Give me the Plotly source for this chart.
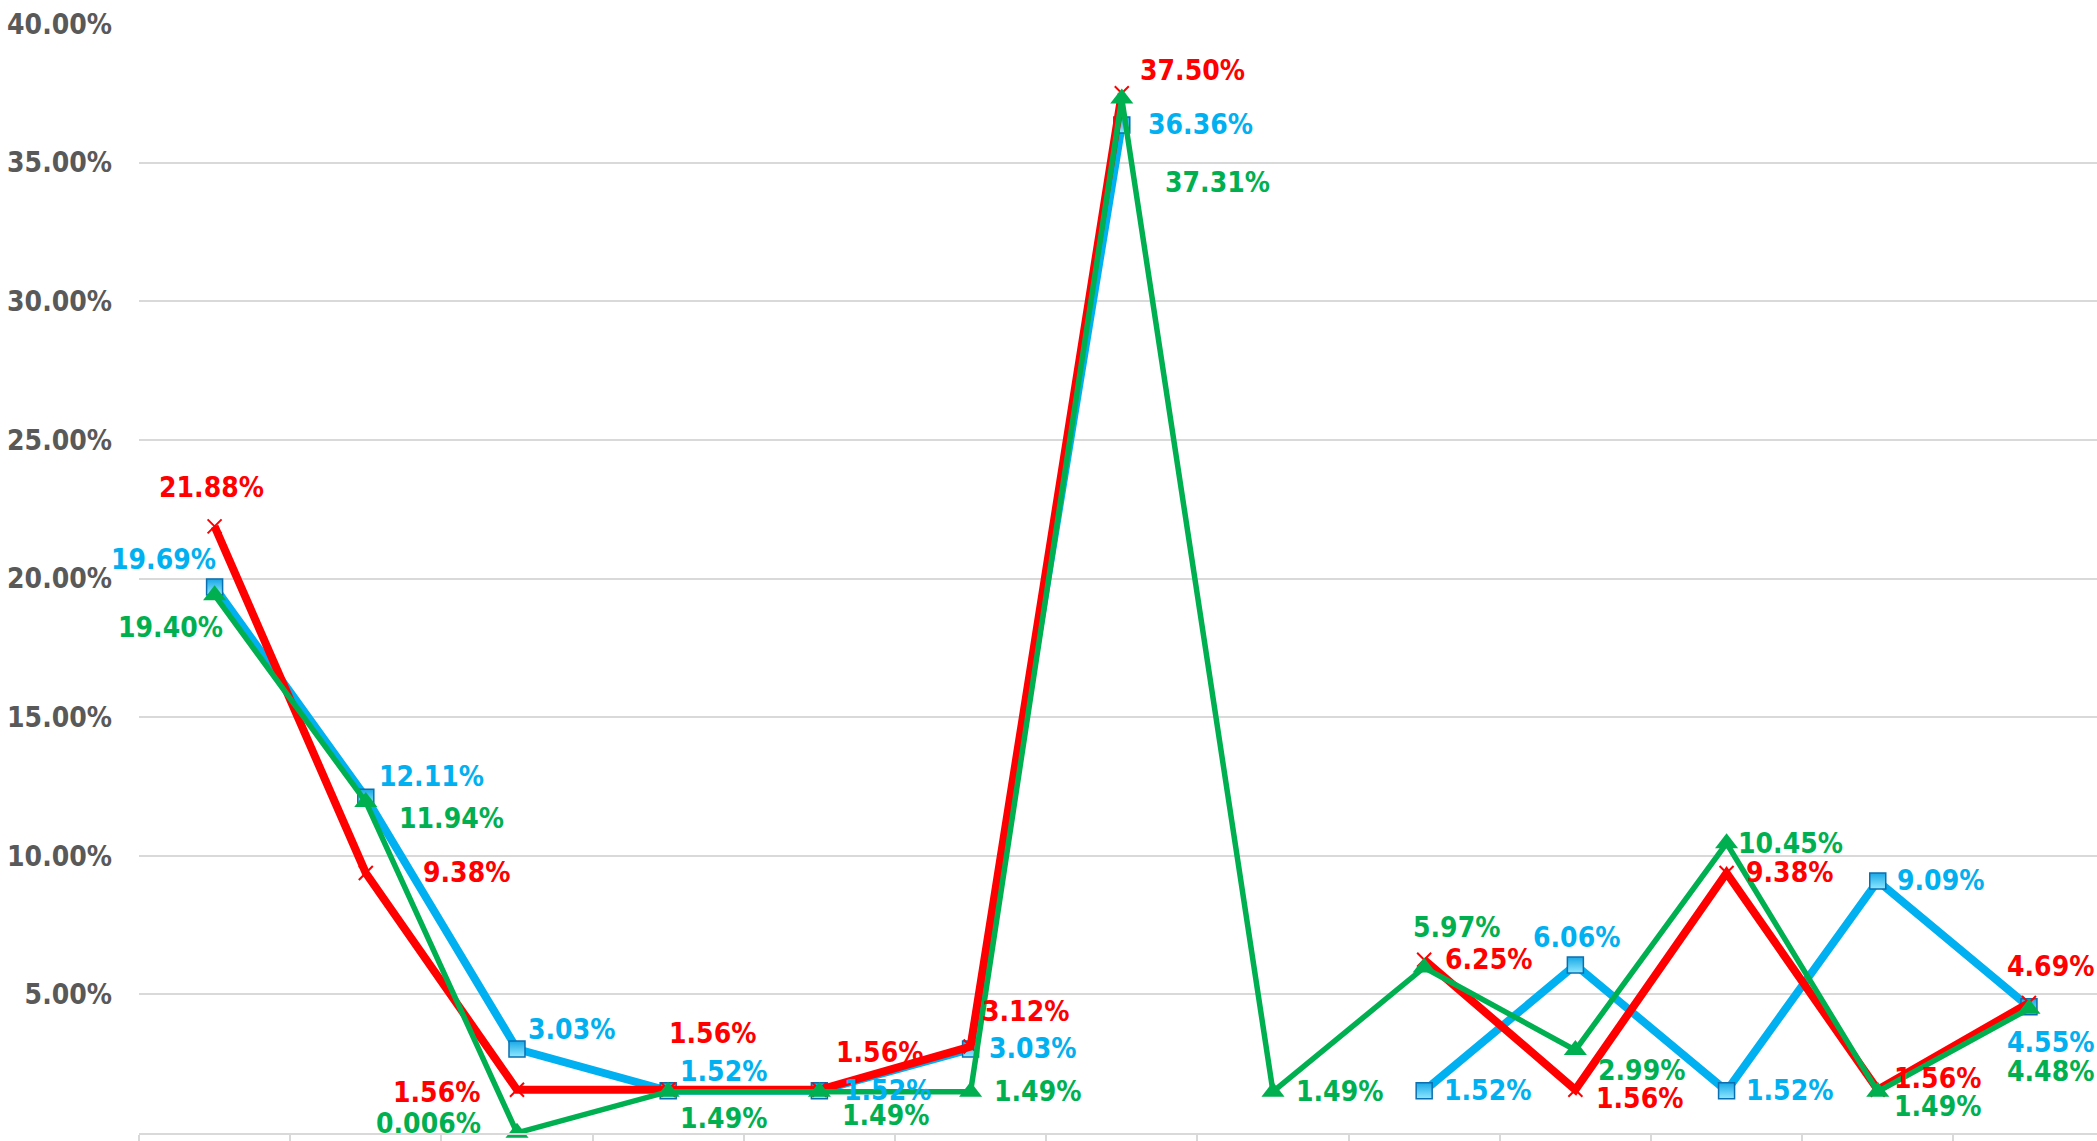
import plotly.graph_objects as go

# ---- data ----
categories = [f"Cat {i}" for i in range(1, 14)]
blue_vals = [0.1969, 0.1211, 0.0303, 0.0152, 0.0152, 0.0303, 0.3636, None, 0.0152, 0.0606, 0.0152, 0.0909, 0.0455]
red_vals = [0.2188, 0.0938, 0.0156, 0.0156, 0.0156, 0.0312, 0.3750, None, 0.0625, 0.0156, 0.0938, 0.0156, 0.0469]
green_vals = [0.1940, 0.1194, 0.00006, 0.0149, 0.0149, 0.0149, 0.3731, 0.0149, 0.0597, 0.0299, 0.1045, 0.0149, 0.0448]
green_text = ["19.40%", "11.94%", "0.006%", "1.49%", "1.49%", "1.49%", "37.31%", "1.49%", "5.97%", "2.99%", "10.45%", "1.49%", "4.48%"]
y_ticks = [0, 0.05, 0.10, 0.15, 0.20, 0.25, 0.30, 0.35, 0.40]

# ---- label offsets (pixels: dx right, dy up) ----
blue_off = [(-51, 28), (66, 21), (55, 19), (55, 19), (68, 0), (62, 0), (79, 0), None, (63, 0), (1, 27), (63, 0), (63, 0), (22, -36)]
red_off = [(-3, 39), (101, 0), (-80, -3), (44, 56), (60, 37), (55, 35), (71, 23), None, (64, 0), (64, -9), (63, 0), (60, 11), (22, 36)]
green_off = [(-44, -32), (86, -17), (-88, 9), (55, -27), (66, -24), (67, 0), (96, -84), (67, 0), (32, 40), (66, -20), (64, 0), (60, -15), (22, -63)]

BLUE = "#00b0f0"
RED = "#ff0000"
GREEN = "#00b050"
FONT = "DejaVu Sans Condensed, Liberation Sans Narrow, sans-serif"
FSIZE = 28

fig = go.Figure()
fig.add_trace(go.Scatter(
    x=categories, y=blue_vals, mode="lines+markers", connectgaps=False,
    line=dict(color=BLUE, width=8),
    marker=dict(symbol="square", size=16, color="#1aa8e6",
                gradient=dict(type="vertical", color="#8fe8ff"),
                line=dict(color="#0a6fb0", width=1.5)),
    cliponaxis=False, showlegend=False))
fig.add_trace(go.Scatter(
    x=categories, y=red_vals, mode="lines+markers", connectgaps=False,
    line=dict(color=RED, width=8),
    marker=dict(symbol="x-thin", size=14, color=RED, line=dict(color=RED, width=2)),
    cliponaxis=False, showlegend=False))
fig.add_trace(go.Scatter(
    x=categories, y=green_vals, mode="lines+markers",
    line=dict(color=GREEN, width=5.5),
    marker=dict(symbol="triangle-up", size=20, color=GREEN),
    cliponaxis=False, showlegend=False))

annotations = []

def add_labels(vals, offs, color, texts=None):
    for i, v in enumerate(vals):
        if v is None or offs[i] is None:
            continue
        t = texts[i] if texts else f"{v*100:.2f}%"
        dx, dy = offs[i]
        annotations.append(dict(x=i, y=v, xref="x", yref="y", text=t, showarrow=False,
                                xshift=dx, yshift=dy, xanchor="center", yanchor="middle",
                                font=dict(family=FONT, size=FSIZE, color=color, weight="bold")))

add_labels(blue_vals, blue_off, BLUE)
add_labels(red_vals, red_off, RED)
add_labels(green_vals, green_off, GREEN, green_text)

fig.update_layout(
    width=2097, height=1141,
    margin=dict(l=139, r=0, t=24, b=4),
    paper_bgcolor="white", plot_bgcolor="white",
    annotations=annotations,
    font=dict(family=FONT),
)
fig.update_xaxes(
    type="category", range=[-0.5, 12.45],
    showticklabels=False, ticks="outside", tickson="boundaries", ticklen=8,
    tickcolor="#d9d9d9", tickwidth=2,
    showline=True, linecolor="#d9d9d9", linewidth=2, showgrid=False, zeroline=False)
fig.update_yaxes(
    range=[0, 0.4], tickvals=y_ticks, tickformat=".2%",
    showgrid=True, gridcolor="#d9d9d9", gridwidth=2, zeroline=False,
    tickfont=dict(family=FONT, size=FSIZE, color="#595959", weight="bold"),
    ticklabelstandoff=26)

fig.write_html("out.html", config={"displayModeBar": False},
               post_script="document.body.style.margin='0';")
